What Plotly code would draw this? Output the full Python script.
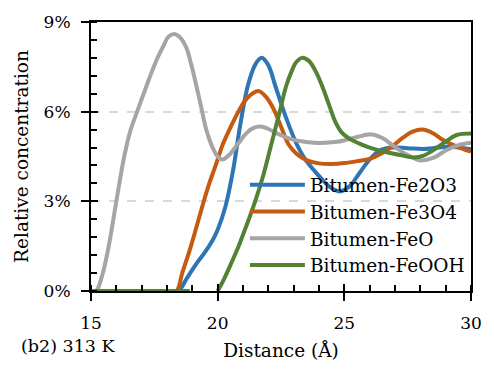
import plotly.graph_objects as go

# ---------------- data (Relative concentration, %) ----------------
fe2o3_x = [15, 18.0, 18.44, 18.8, 19.15, 19.5, 19.8, 20.0, 20.3, 20.6, 20.9, 21.2, 21.5, 21.74, 22.0, 22.3, 22.7, 23.1, 23.5, 24.0, 24.4, 24.8, 25.2, 25.6, 26.0, 26.4, 26.85, 27.5, 28.1, 28.7, 29.2, 30]
fe2o3_y = [0, 0, 0, 0.45, 0.9, 1.3, 1.7, 2.05, 2.8, 4.0, 5.6, 6.9, 7.6, 7.8, 7.55, 6.8, 5.8, 4.95, 4.35, 3.85, 3.5, 3.33, 3.5, 3.95, 4.4, 4.7, 4.8, 4.78, 4.75, 4.8, 4.83, 4.74]

fe3o4_x = [15, 18.0, 18.37, 18.6, 18.89, 19.15, 19.4, 19.65, 19.9, 20.2, 20.52, 20.85, 21.16, 21.6, 21.9, 22.2, 22.5, 22.8, 23.1, 23.5, 24.0, 24.5, 25.0, 25.55, 26.0, 26.46, 26.9, 27.3, 27.7, 28.07, 28.5, 28.9, 29.4, 30]
fe3o4_y = [0, 0, 0, 0.6, 1.35, 2.1, 2.85, 3.55, 4.15, 4.9, 5.5, 6.05, 6.45, 6.69, 6.5, 6.1, 5.5, 4.9, 4.6, 4.38, 4.27, 4.25, 4.28, 4.35, 4.42, 4.6, 4.85, 5.12, 5.33, 5.4, 5.28, 5.05, 4.85, 4.66]

feo_x = [15, 15.2, 15.45, 15.7, 16.0, 16.3, 16.55, 16.82, 17.1, 17.34, 17.6, 17.86, 18.05, 18.27, 18.5, 18.76, 18.95, 19.15, 19.35, 19.55, 19.8, 20.0, 20.2, 20.45, 20.78, 21.1, 21.4, 21.7, 22.0, 22.45, 22.9, 23.36, 23.8, 24.26, 24.7, 25.04, 25.5, 26.07, 26.5, 26.98, 27.5, 28.0, 28.5, 29.04, 29.5, 30]
feo_y = [0, 0, 0.55, 1.5, 3.0, 4.45, 5.35, 6.0, 6.65, 7.2, 7.75, 8.2, 8.5, 8.6, 8.5, 8.15, 7.6, 6.9, 6.15, 5.4, 4.8, 4.5, 4.4, 4.55, 4.9, 5.25, 5.45, 5.5, 5.42, 5.23, 5.08, 5.0, 4.96, 4.96, 4.99, 5.05, 5.15, 5.24, 5.12, 4.83, 4.55, 4.37, 4.45, 4.72, 4.88, 4.96]

feooh_x = [15, 18.9, None, 20.0, 20.25, 20.52, 20.85, 21.16, 21.5, 21.81, 22.1, 22.45, 22.7, 22.91, 23.1, 23.33, 23.6, 23.88, 24.15, 24.4, 24.65, 24.9, 25.2, 25.55, 26.0, 26.59, 27.2, 27.75, 28.1, 28.53, 29.0, 29.43, 30]
feooh_y = [0, 0, None, 0, 0.4, 0.9, 1.55, 2.24, 3.05, 3.9, 4.85, 6.0, 6.85, 7.33, 7.65, 7.8, 7.7, 7.33, 6.8, 6.22, 5.65, 5.3, 5.1, 4.95, 4.8, 4.66, 4.55, 4.47, 4.52, 4.72, 5.0, 5.22, 5.27]

series_names = ["Bitumen-Fe2O3", "Bitumen-Fe3O4", "Bitumen-FeO", "Bitumen-FeOOH"]
series_colors = ["#2E75B6", "#C55A11", "#A5A5A5", "#548235"]

x_ticks = [15, 20, 25, 30]
y_ticks = [0, 3, 6, 9]
y_tick_labels = ["0%", "3%", "6%", "9%"]

FONT = "DejaVu Serif"

legend_ids = ["legend", "legend2", "legend3", "legend4"]
legend_y = [0.393, 0.2935, 0.194, 0.0945]

fig = go.Figure()
for name, color, xs, ys, lid in zip(series_names, series_colors,
                                    [fe2o3_x, fe3o4_x, feo_x, feooh_x],
                                    [fe2o3_y, fe3o4_y, feo_y, feooh_y], legend_ids):
    fig.add_trace(go.Scatter(x=xs, y=ys, name=name, mode="lines", legend=lid,
                             line=dict(color=color, width=4, shape="spline", smoothing=1.0),
                             connectgaps=False, hoverinfo="skip"))

# helper trace so the overlay axes (inside halves of the major ticks) are drawn
fig.add_trace(go.Scatter(x=fe2o3_x, y=fe2o3_y, xaxis="x2", yaxis="y2", mode="lines",
                         line=dict(width=0.01, color="rgba(0,0,0,0)"), showlegend=False, hoverinfo="skip"))

axis_common = dict(showline=True, linecolor="black", linewidth=2, mirror=True,
                   ticks="outside", ticklen=8, tickwidth=2, tickcolor="black",
                   tickfont=dict(family=FONT, size=17, color="black"),
                   zeroline=False)

legend_common = dict(xanchor="left", yanchor="middle", bgcolor="rgba(0,0,0,0)",
                     font=dict(family=FONT, size=18.5, color="black"), itemwidth=55)

layout_legends = {lid: dict(x=0.405, y=ly, **legend_common) for lid, ly in zip(legend_ids, legend_y)}

fig.update_layout(
    width=494, height=370,
    margin=dict(l=91, r=16, t=21, b=78),
    paper_bgcolor="white", plot_bgcolor="white",
    font=dict(family=FONT, size=17, color="black"),
    showlegend=True,
    xaxis=dict(range=[15, 30], tickvals=x_ticks, showgrid=False, ticklabelstandoff=8,
               minor=dict(ticks="inside", dtick=1, ticklen=6, tickwidth=2, tickcolor="black", showgrid=False),
               title=dict(text="Distance (Å)", font=dict(family=FONT, size=18.5, color="black"), standoff=12),
               **axis_common),
    yaxis=dict(range=[0, 9], tickvals=y_ticks, ticktext=y_tick_labels, showgrid=True,
               gridcolor="#D9D9D9", gridwidth=1.5, griddash="dash", ticklabelstandoff=7,
               minor=dict(ticks="inside", dtick=0.6, ticklen=6, tickwidth=2, tickcolor="black", showgrid=False),
               title=dict(text="Relative concentration", font=dict(family=FONT, size=18.5, color="black"), standoff=10),
               **axis_common),
    xaxis2=dict(range=[15, 30], tickvals=x_ticks, overlaying="x", anchor="y", side="bottom",
                ticks="inside", ticklen=7, tickwidth=2, tickcolor="black",
                showticklabels=False, showline=False, showgrid=False, zeroline=False),
    yaxis2=dict(range=[0, 9], tickvals=y_ticks, overlaying="y", anchor="x", side="left",
                ticks="inside", ticklen=7, tickwidth=2, tickcolor="black",
                showticklabels=False, showline=False, showgrid=False, zeroline=False),
    annotations=[dict(text="(b2) 313 K", xref="paper", yref="paper", x=-0.189, y=-0.203,
                      xanchor="left", yanchor="middle", showarrow=False,
                      font=dict(family=FONT, size=17.5, color="black"))],
    **layout_legends,
)

fig.write_html("out.html")
